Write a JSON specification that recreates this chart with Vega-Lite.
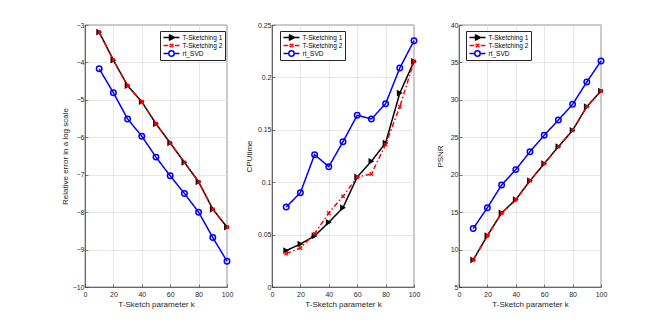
{
  "$schema": "https://vega.github.io/schema/vega-lite/v6.json",
  "padding": {"left": 60, "top": 20, "right": 0, "bottom": 0},
  "background": "white",
  "config": {
    "font": "Liberation Sans",
    "view": {"stroke": "#262626", "strokeWidth": 0.6},
    "axis": {
      "domainColor": "#262626", "domainWidth": 0.6,
      "tickColor": "#262626", "tickSize": -3, "tickWidth": 0.6,
      "labelFont": "Liberation Sans", "labelFontSize": 7, "labelColor": "#262626",
      "labelOverlap": false, "labelBound": false, "labelFlush": false,
      "titleFont": "Liberation Sans", "titleFontSize": 8, "titleFontWeight": "normal", "titleColor": "#262626",
      "gridColor": "#d8d8d8", "gridWidth": 0.6
    },
    "legend": {
      "labelFont": "Liberation Sans", "labelFontSize": 6.5, "labelColor": "#000000"
    }
  },
  "bounds": "flush",
  "spacing": 45,
  "resolve": {"scale": {"color": "independent"}, "legend": {"color": "independent"}},
  "datasets": {
    "d": [
      {"p": 1, "s": "T-Sketching 1", "k": 10, "v": -3.19},
      {"p": 1, "s": "T-Sketching 1", "k": 20, "v": -3.94},
      {"p": 1, "s": "T-Sketching 1", "k": 30, "v": -4.62},
      {"p": 1, "s": "T-Sketching 1", "k": 40, "v": -5.05},
      {"p": 1, "s": "T-Sketching 1", "k": 50, "v": -5.64},
      {"p": 1, "s": "T-Sketching 1", "k": 60, "v": -6.15},
      {"p": 1, "s": "T-Sketching 1", "k": 70, "v": -6.67},
      {"p": 1, "s": "T-Sketching 1", "k": 80, "v": -7.19},
      {"p": 1, "s": "T-Sketching 1", "k": 90, "v": -7.92},
      {"p": 1, "s": "T-Sketching 1", "k": 100, "v": -8.40},
      {"p": 1, "s": "T-Sketching 2", "k": 10, "v": -3.19},
      {"p": 1, "s": "T-Sketching 2", "k": 20, "v": -3.94},
      {"p": 1, "s": "T-Sketching 2", "k": 30, "v": -4.62},
      {"p": 1, "s": "T-Sketching 2", "k": 40, "v": -5.05},
      {"p": 1, "s": "T-Sketching 2", "k": 50, "v": -5.64},
      {"p": 1, "s": "T-Sketching 2", "k": 60, "v": -6.15},
      {"p": 1, "s": "T-Sketching 2", "k": 70, "v": -6.67},
      {"p": 1, "s": "T-Sketching 2", "k": 80, "v": -7.19},
      {"p": 1, "s": "T-Sketching 2", "k": 90, "v": -7.92},
      {"p": 1, "s": "T-Sketching 2", "k": 100, "v": -8.40},
      {"p": 1, "s": "rt_SVD", "k": 10, "v": -4.17},
      {"p": 1, "s": "rt_SVD", "k": 20, "v": -4.81},
      {"p": 1, "s": "rt_SVD", "k": 30, "v": -5.51},
      {"p": 1, "s": "rt_SVD", "k": 40, "v": -5.97},
      {"p": 1, "s": "rt_SVD", "k": 50, "v": -6.53},
      {"p": 1, "s": "rt_SVD", "k": 60, "v": -7.03},
      {"p": 1, "s": "rt_SVD", "k": 70, "v": -7.50},
      {"p": 1, "s": "rt_SVD", "k": 80, "v": -8.00},
      {"p": 1, "s": "rt_SVD", "k": 90, "v": -8.68},
      {"p": 1, "s": "rt_SVD", "k": 100, "v": -9.31},
      {"p": 2, "s": "T-Sketching 1", "k": 10, "v": 0.0347},
      {"p": 2, "s": "T-Sketching 1", "k": 20, "v": 0.0410},
      {"p": 2, "s": "T-Sketching 1", "k": 30, "v": 0.0487},
      {"p": 2, "s": "T-Sketching 1", "k": 40, "v": 0.0617},
      {"p": 2, "s": "T-Sketching 1", "k": 50, "v": 0.0757},
      {"p": 2, "s": "T-Sketching 1", "k": 60, "v": 0.1050},
      {"p": 2, "s": "T-Sketching 1", "k": 70, "v": 0.1200},
      {"p": 2, "s": "T-Sketching 1", "k": 80, "v": 0.1374},
      {"p": 2, "s": "T-Sketching 1", "k": 90, "v": 0.1850},
      {"p": 2, "s": "T-Sketching 1", "k": 100, "v": 0.2153},
      {"p": 2, "s": "T-Sketching 2", "k": 10, "v": 0.0318},
      {"p": 2, "s": "T-Sketching 2", "k": 20, "v": 0.0372},
      {"p": 2, "s": "T-Sketching 2", "k": 30, "v": 0.0509},
      {"p": 2, "s": "T-Sketching 2", "k": 40, "v": 0.0706},
      {"p": 2, "s": "T-Sketching 2", "k": 50, "v": 0.0865},
      {"p": 2, "s": "T-Sketching 2", "k": 60, "v": 0.1050},
      {"p": 2, "s": "T-Sketching 2", "k": 70, "v": 0.1078},
      {"p": 2, "s": "T-Sketching 2", "k": 80, "v": 0.1360},
      {"p": 2, "s": "T-Sketching 2", "k": 90, "v": 0.1720},
      {"p": 2, "s": "T-Sketching 2", "k": 100, "v": 0.2153},
      {"p": 2, "s": "rt_SVD", "k": 10, "v": 0.0763},
      {"p": 2, "s": "rt_SVD", "k": 20, "v": 0.0900},
      {"p": 2, "s": "rt_SVD", "k": 30, "v": 0.1263},
      {"p": 2, "s": "rt_SVD", "k": 40, "v": 0.1148},
      {"p": 2, "s": "rt_SVD", "k": 50, "v": 0.1387},
      {"p": 2, "s": "rt_SVD", "k": 60, "v": 0.1638},
      {"p": 2, "s": "rt_SVD", "k": 70, "v": 0.1603},
      {"p": 2, "s": "rt_SVD", "k": 80, "v": 0.1749},
      {"p": 2, "s": "rt_SVD", "k": 90, "v": 0.2090},
      {"p": 2, "s": "rt_SVD", "k": 100, "v": 0.2350},
      {"p": 3, "s": "T-Sketching 1", "k": 10, "v": 8.61},
      {"p": 3, "s": "T-Sketching 1", "k": 20, "v": 11.86},
      {"p": 3, "s": "T-Sketching 1", "k": 30, "v": 14.89},
      {"p": 3, "s": "T-Sketching 1", "k": 40, "v": 16.67},
      {"p": 3, "s": "T-Sketching 1", "k": 50, "v": 19.20},
      {"p": 3, "s": "T-Sketching 1", "k": 60, "v": 21.48},
      {"p": 3, "s": "T-Sketching 1", "k": 70, "v": 23.75},
      {"p": 3, "s": "T-Sketching 1", "k": 80, "v": 25.93},
      {"p": 3, "s": "T-Sketching 1", "k": 90, "v": 29.09},
      {"p": 3, "s": "T-Sketching 1", "k": 100, "v": 31.18},
      {"p": 3, "s": "T-Sketching 2", "k": 10, "v": 8.61},
      {"p": 3, "s": "T-Sketching 2", "k": 20, "v": 11.86},
      {"p": 3, "s": "T-Sketching 2", "k": 30, "v": 14.89},
      {"p": 3, "s": "T-Sketching 2", "k": 40, "v": 16.67},
      {"p": 3, "s": "T-Sketching 2", "k": 50, "v": 19.20},
      {"p": 3, "s": "T-Sketching 2", "k": 60, "v": 21.48},
      {"p": 3, "s": "T-Sketching 2", "k": 70, "v": 23.75},
      {"p": 3, "s": "T-Sketching 2", "k": 80, "v": 25.93},
      {"p": 3, "s": "T-Sketching 2", "k": 90, "v": 29.09},
      {"p": 3, "s": "T-Sketching 2", "k": 100, "v": 31.18},
      {"p": 3, "s": "rt_SVD", "k": 10, "v": 12.80},
      {"p": 3, "s": "rt_SVD", "k": 20, "v": 15.60},
      {"p": 3, "s": "rt_SVD", "k": 30, "v": 18.63},
      {"p": 3, "s": "rt_SVD", "k": 40, "v": 20.68},
      {"p": 3, "s": "rt_SVD", "k": 50, "v": 23.08},
      {"p": 3, "s": "rt_SVD", "k": 60, "v": 25.26},
      {"p": 3, "s": "rt_SVD", "k": 70, "v": 27.31},
      {"p": 3, "s": "rt_SVD", "k": 80, "v": 29.40},
      {"p": 3, "s": "rt_SVD", "k": 90, "v": 32.39},
      {"p": 3, "s": "rt_SVD", "k": 100, "v": 35.20}
    ]
  },
  "hconcat": [
    {
      "width": 142, "height": 262,
      "data": {"name": "d"},
      "transform": [{"filter": "datum.p === 1"}],
      "encoding": {
        "x": {"field": "k", "type": "quantitative", "scale": {"domain": [0, 100], "nice": false},
              "axis": {"values": [0, 20, 40, 60, 80, 100], "title": "T-Sketch parameter k", "labelPadding": 6, "titlePadding": 3}},
        "y": {"field": "v", "type": "quantitative", "scale": {"domain": [-10, -3], "nice": false},
              "axis": {"values": [-10, -9, -8, -7, -6, -5, -4, -3], "title": "Relative error in a log scale", "labelPadding": 4, "titleX": -20, "titleBaseline": "middle"}}
      },
      "layer": [
        {
          "mark": {"type": "line", "strokeWidth": 1.5},
          "encoding": {
            "color": {"field": "s", "type": "nominal",
              "scale": {"domain": ["T-Sketching 1", "T-Sketching 2", "rt_SVD"], "range": ["#000000", "#ff0000", "#0000ff"]},
              "legend": {"orient": "none", "legendX": 75, "legendY": 6, "title": null, "symbolSize": 36, "symbolStrokeWidth": 1.5, "labelOffset": 12, "padding": 2.5, "rowPadding": 0, "fillColor": "white", "strokeColor": "#262626",
                "encode": {"symbols": {"update": {
                  "shape": {"signal": "datum.value === 'T-Sketching 1' ? 'M-1,0H4.33M1,-0.85L2.6,0L1,0.85Z' : datum.value === 'T-Sketching 2' ? 'M-1,0H0.6M1.0,0H1.1M2.3,0H2.4M2.75,0H4.33M1.1,-0.6L2.25,0.6M1.1,0.6L2.25,-0.6' : 'M-1,0H0.77M2.57,0H4.33M0.77,0A0.9,0.9 0 1,0 2.57,0A0.9,0.9 0 1,0 0.77,0'"},
                  "fill": {"signal": "datum.value === 'T-Sketching 1' ? '#000000' : 'transparent'"},
                  "size": {"value": 36},
                  "strokeWidth": {"value": 1.5},
                  "strokeJoin": {"value": "round"},
                  "strokeDash": {"value": []},
                  "opacity": {"value": 1}
                }}}}},
            "strokeDash": {"field": "s", "type": "nominal", "legend": null,
              "scale": {"domain": ["T-Sketching 1", "T-Sketching 2", "rt_SVD"], "range": [[1, 0], [5, 2.5, 1.5, 2.5], [1, 0]]}}
          }
        },
        {"transform": [{"filter": "datum.s === 'T-Sketching 1'"}], "mark": {"type": "point", "shape": "triangle-right", "filled": true, "color": "#000000", "size": 45, "opacity": 1}},
        {"transform": [{"filter": "datum.s === 'T-Sketching 2'"}], "mark": {"type": "point", "shape": "M-1,-1L1,1M-1,1L1,-1", "filled": false, "color": "#ff0000", "size": 12, "strokeWidth": 1.3, "opacity": 1}},
        {"transform": [{"filter": "datum.s === 'rt_SVD'"}], "mark": {"type": "point", "shape": "circle", "filled": false, "color": "#0000ff", "size": 30, "strokeWidth": 1.5, "opacity": 1}}
      ]
    },
    {
      "width": 142, "height": 262,
      "data": {"name": "d"},
      "transform": [{"filter": "datum.p === 2"}],
      "encoding": {
        "x": {"field": "k", "type": "quantitative", "scale": {"domain": [0, 100], "nice": false},
              "axis": {"values": [0, 20, 40, 60, 80, 100], "title": "T-Sketch parameter k", "labelPadding": 6, "titlePadding": 3}},
        "y": {"field": "v", "type": "quantitative", "scale": {"domain": [0, 0.25], "nice": false},
              "axis": {"values": [0, 0.05, 0.1, 0.15, 0.2, 0.25], "format": "~g", "title": "CPUtime", "labelPadding": 4, "titleX": -23, "titleBaseline": "middle"}}
      },
      "layer": [
        {
          "mark": {"type": "line", "strokeWidth": 1.5},
          "encoding": {
            "color": {"field": "s", "type": "nominal",
              "scale": {"domain": ["T-Sketching 1", "T-Sketching 2", "rt_SVD"], "range": ["#000000", "#ff0000", "#0000ff"]},
              "legend": {"orient": "none", "legendX": 8, "legendY": 6, "title": null, "symbolSize": 36, "symbolStrokeWidth": 1.5, "labelOffset": 12, "padding": 2.5, "rowPadding": 0, "fillColor": "white", "strokeColor": "#262626",
                "encode": {"symbols": {"update": {
                  "shape": {"signal": "datum.value === 'T-Sketching 1' ? 'M-1,0H4.33M1,-0.85L2.6,0L1,0.85Z' : datum.value === 'T-Sketching 2' ? 'M-1,0H0.6M1.0,0H1.1M2.3,0H2.4M2.75,0H4.33M1.1,-0.6L2.25,0.6M1.1,0.6L2.25,-0.6' : 'M-1,0H0.77M2.57,0H4.33M0.77,0A0.9,0.9 0 1,0 2.57,0A0.9,0.9 0 1,0 0.77,0'"},
                  "fill": {"signal": "datum.value === 'T-Sketching 1' ? '#000000' : 'transparent'"},
                  "size": {"value": 36},
                  "strokeWidth": {"value": 1.5},
                  "strokeJoin": {"value": "round"},
                  "strokeDash": {"value": []},
                  "opacity": {"value": 1}
                }}}}},
            "strokeDash": {"field": "s", "type": "nominal", "legend": null,
              "scale": {"domain": ["T-Sketching 1", "T-Sketching 2", "rt_SVD"], "range": [[1, 0], [5, 2.5, 1.5, 2.5], [1, 0]]}}
          }
        },
        {"transform": [{"filter": "datum.s === 'T-Sketching 1'"}], "mark": {"type": "point", "shape": "triangle-right", "filled": true, "color": "#000000", "size": 45, "opacity": 1}},
        {"transform": [{"filter": "datum.s === 'T-Sketching 2'"}], "mark": {"type": "point", "shape": "M-1,-1L1,1M-1,1L1,-1", "filled": false, "color": "#ff0000", "size": 12, "strokeWidth": 1.3, "opacity": 1}},
        {"transform": [{"filter": "datum.s === 'rt_SVD'"}], "mark": {"type": "point", "shape": "circle", "filled": false, "color": "#0000ff", "size": 30, "strokeWidth": 1.5, "opacity": 1}}
      ]
    },
    {
      "width": 142, "height": 262,
      "data": {"name": "d"},
      "transform": [{"filter": "datum.p === 3"}],
      "encoding": {
        "x": {"field": "k", "type": "quantitative", "scale": {"domain": [0, 100], "nice": false},
              "axis": {"values": [0, 20, 40, 60, 80, 100], "title": "T-Sketch parameter k", "labelPadding": 6, "titlePadding": 3}},
        "y": {"field": "v", "type": "quantitative", "scale": {"domain": [5, 40], "nice": false},
              "axis": {"values": [5, 10, 15, 20, 25, 30, 35, 40], "title": "PSNR", "labelPadding": 4, "titleX": -19, "titleBaseline": "middle"}}
      },
      "layer": [
        {
          "mark": {"type": "line", "strokeWidth": 1.5},
          "encoding": {
            "color": {"field": "s", "type": "nominal",
              "scale": {"domain": ["T-Sketching 1", "T-Sketching 2", "rt_SVD"], "range": ["#000000", "#ff0000", "#0000ff"]},
              "legend": {"orient": "none", "legendX": 7, "legendY": 6, "title": null, "symbolSize": 36, "symbolStrokeWidth": 1.5, "labelOffset": 12, "padding": 2.5, "rowPadding": 0, "fillColor": "white", "strokeColor": "#262626",
                "encode": {"symbols": {"update": {
                  "shape": {"signal": "datum.value === 'T-Sketching 1' ? 'M-1,0H4.33M1,-0.85L2.6,0L1,0.85Z' : datum.value === 'T-Sketching 2' ? 'M-1,0H0.6M1.0,0H1.1M2.3,0H2.4M2.75,0H4.33M1.1,-0.6L2.25,0.6M1.1,0.6L2.25,-0.6' : 'M-1,0H0.77M2.57,0H4.33M0.77,0A0.9,0.9 0 1,0 2.57,0A0.9,0.9 0 1,0 0.77,0'"},
                  "fill": {"signal": "datum.value === 'T-Sketching 1' ? '#000000' : 'transparent'"},
                  "size": {"value": 36},
                  "strokeWidth": {"value": 1.5},
                  "strokeJoin": {"value": "round"},
                  "strokeDash": {"value": []},
                  "opacity": {"value": 1}
                }}}}},
            "strokeDash": {"field": "s", "type": "nominal", "legend": null,
              "scale": {"domain": ["T-Sketching 1", "T-Sketching 2", "rt_SVD"], "range": [[1, 0], [5, 2.5, 1.5, 2.5], [1, 0]]}}
          }
        },
        {"transform": [{"filter": "datum.s === 'T-Sketching 1'"}], "mark": {"type": "point", "shape": "triangle-right", "filled": true, "color": "#000000", "size": 45, "opacity": 1}},
        {"transform": [{"filter": "datum.s === 'T-Sketching 2'"}], "mark": {"type": "point", "shape": "M-1,-1L1,1M-1,1L1,-1", "filled": false, "color": "#ff0000", "size": 12, "strokeWidth": 1.3, "opacity": 1}},
        {"transform": [{"filter": "datum.s === 'rt_SVD'"}], "mark": {"type": "point", "shape": "circle", "filled": false, "color": "#0000ff", "size": 30, "strokeWidth": 1.5, "opacity": 1}}
      ]
    }
  ]
}
